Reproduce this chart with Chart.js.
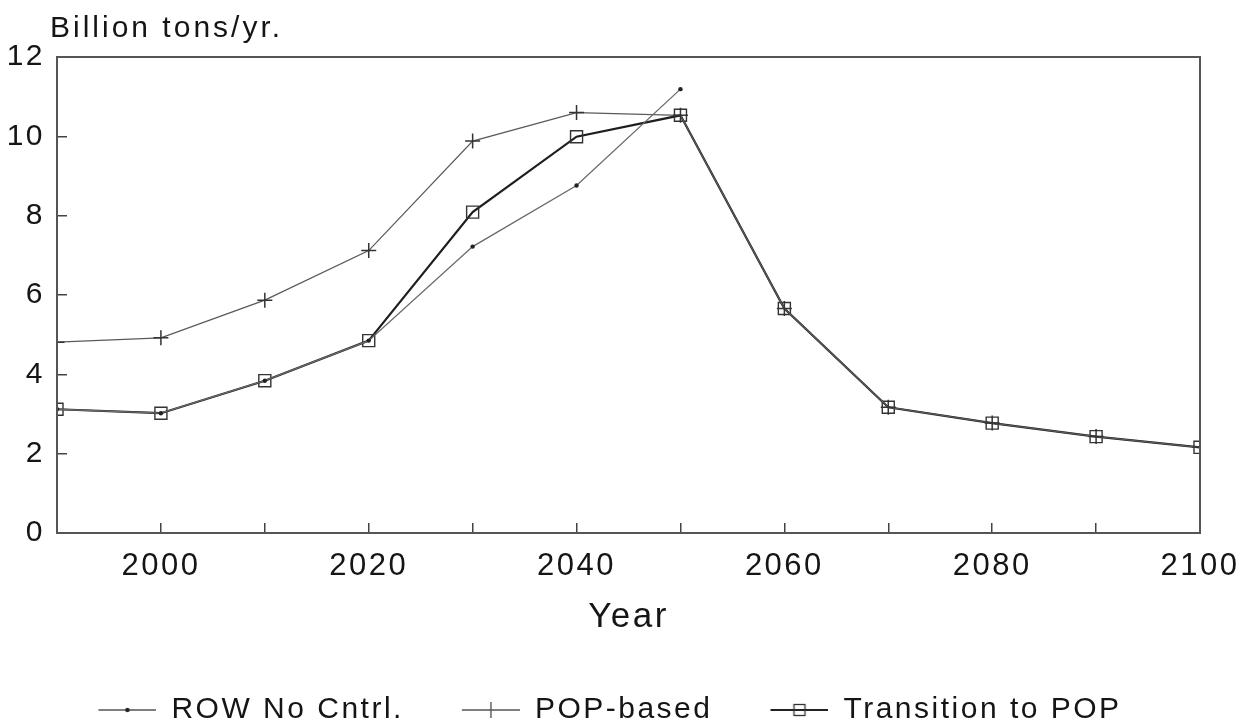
<!DOCTYPE html>
<html>
<head>
<meta charset="utf-8">
<script src="https://cdn.jsdelivr.net/npm/chart.js@4.4.1/dist/chart.umd.min.js"></script>
<style>
html,body{margin:0;padding:0;background:#fff;}
#wrap{width:1249px;height:724px;}
</style>
</head>
<body>
<div id="wrap"><canvas id="c" width="1249" height="724"></canvas></div>
<script>
// ---- data ----
const years = [1990, 2000, 2010, 2020, 2030, 2040, 2050, 2060, 2070, 2080, 2090, 2100];
const rowNoCntrl = [3.12, 3.02, 3.84, 4.85, 7.22, 8.76, 11.19, null, null, null, null, null];
const popBased = [4.81, 4.92, 5.87, 7.12, 9.88, 10.60, 10.53, 5.66, 3.17, 2.77, 2.43, 2.16];
const transitionToPop = [3.12, 3.02, 3.84, 4.85, 8.09, 9.99, 10.53, 5.66, 3.17, 2.77, 2.43, 2.16];
const seriesNames = ['ROW No Cntrl.', 'POP-based', 'Transition to POP'];
const yAxisTitle = 'Billion tons/yr.';
const xAxisTitle = 'Year';
const xLabelEvery = 20;

const FONT = "'Liberation Sans', Arial, Helvetica, sans-serif";
const INK = '#151515';
const SPACING = '2.5px';

function pts(vals) { return years.map((y, i) => ({x: y, y: vals[i]})); }

// legend icon: blank lead-in (item gap) + short line with the series marker
const ICON_GAP = 50, ICON_LINE = 58, ICON_W = ICON_GAP + ICON_LINE;
function makeIcon(kind) {
  const c = document.createElement('canvas');
  c.width = ICON_W; c.height = 20;
  const g = c.getContext('2d');
  const x0 = ICON_GAP, xm = ICON_GAP + ICON_LINE / 2;
  g.strokeStyle = kind === 'sq' ? '#222' : '#555';
  g.lineWidth = kind === 'sq' ? 2 : 1.4;
  g.beginPath(); g.moveTo(x0, 10); g.lineTo(ICON_W, 10); g.stroke();
  if (kind === 'dot') {
    g.fillStyle = '#222'; g.beginPath(); g.arc(xm, 10, 2.2, 0, Math.PI * 2); g.fill();
  } else if (kind === 'plus') {
    g.beginPath(); g.moveTo(xm, 2); g.lineTo(xm, 18); g.stroke();
  } else {
    g.lineWidth = 1.3; g.strokeStyle = '#333';
    g.strokeRect(xm - 5.5, 4.5, 11, 11);
  }
  return c;
}
const legendIcons = [makeIcon('dot'), makeIcon('plus'), makeIcon('sq')];

const spacingPlugin = {
  id: 'spacing',
  beforeUpdate(chart) { chart.ctx.letterSpacing = SPACING; },
  beforeDraw(chart) { chart.ctx.letterSpacing = SPACING; }
};

const framePlugin = {
  id: 'frame',
  afterLayout(chart) {
    const lg = chart.legend;
    if (lg) { lg.left -= 30; lg.top += 11; lg.bottom += 11; }
  },
  afterDatasetsDraw(chart) {
    const {ctx, chartArea: a} = chart;
    ctx.save();
    ctx.strokeStyle = '#555';
    ctx.lineWidth = 2;
    ctx.strokeRect(a.left, a.top, a.right - a.left, a.bottom - a.top);
    ctx.restore();
  },
  afterDraw(chart) {
    const {ctx, chartArea: a} = chart;
    ctx.save();
    ctx.letterSpacing = '3px';
    ctx.fillStyle = INK;
    ctx.font = '30px ' + FONT;
    ctx.textAlign = 'left';
    ctx.textBaseline = 'alphabetic';
    ctx.fillText(yAxisTitle, a.left - 7, 37);
    ctx.restore();
  }
};

new Chart(document.getElementById('c'), {
  type: 'line',
  data: {
    datasets: [
      {
        label: seriesNames[0],
        data: pts(rowNoCntrl),
        borderColor: '#6a6a6a',
        borderWidth: 1.3,
        pointStyle: 'circle',
        pointRadius: 2.2,
        pointBackgroundColor: '#222',
        pointBorderColor: '#222',
        pointBorderWidth: 0,
        spanGaps: false,
        tension: 0
      },
      {
        label: seriesNames[1],
        data: pts(popBased),
        borderColor: '#5a5a5a',
        borderWidth: 1.3,
        pointStyle: 'cross',
        pointRadius: 7.5,
        pointBorderColor: '#333',
        pointBorderWidth: 1.5,
        pointBackgroundColor: 'transparent',
        tension: 0
      },
      {
        label: seriesNames[2],
        data: pts(transitionToPop),
        borderColor: '#1e1e1e',
        borderWidth: 2.2,
        pointStyle: 'rect',
        pointRadius: 8.5,
        pointBorderColor: '#333',
        pointBorderWidth: 1.4,
        pointBackgroundColor: 'transparent',
        tension: 0
      }
    ]
  },
  options: {
    responsive: false,
    animation: false,
    devicePixelRatio: 1,
    layout: {padding: {left: 0, right: 49, top: 57, bottom: 0}},
    scales: {
      x: {
        type: 'linear',
        min: years[0],
        max: years[years.length - 1],
        border: {display: true, color: '#555', width: 2},
        grid: {display: true, drawOnChartArea: false, drawTicks: true, tickLength: -10, color: '#444', lineWidth: 1.5},
        ticks: {
          stepSize: 10,
          autoSkip: false,
          maxRotation: 0,
          padding: 25,
          color: INK,
          font: {family: FONT, size: 31},
          callback: v => (v % xLabelEvery === 0 ? String(v) : '')
        },
        title: {display: true, text: xAxisTitle, color: INK, font: {family: FONT, size: 35}, padding: {top: 0, bottom: 38}},
        afterFit(s) { s.height = 143; s.paddingLeft = 0; s.paddingRight = 0; }
      },
      y: {
        type: 'linear',
        min: 0,
        max: 12,
        border: {display: true, color: '#555', width: 2},
        grid: {display: true, drawOnChartArea: false, drawTicks: true, tickLength: -10, color: '#444', lineWidth: 1.5},
        ticks: {
          stepSize: 2,
          padding: 22,
          color: INK,
          font: {family: FONT, size: 30}
        },
        afterFit(s) { s.width = 57; s.paddingTop = 0; s.paddingBottom = 0; }
      }
    },
    plugins: {
      tooltip: {enabled: false},
      legend: {
        position: 'bottom',
        labels: {
          usePointStyle: true,
          pointStyleWidth: ICON_W,
          padding: 8,
          color: INK,
          font: {family: FONT, size: 30},
          generateLabels(chart) {
            const items = Chart.defaults.plugins.legend.labels.generateLabels(chart);
            items.forEach((it, i) => { it.pointStyle = legendIcons[i]; });
            return items;
          }
        }
      }
    }
  },
  plugins: [spacingPlugin, framePlugin]
});
</script>
</body>
</html>
